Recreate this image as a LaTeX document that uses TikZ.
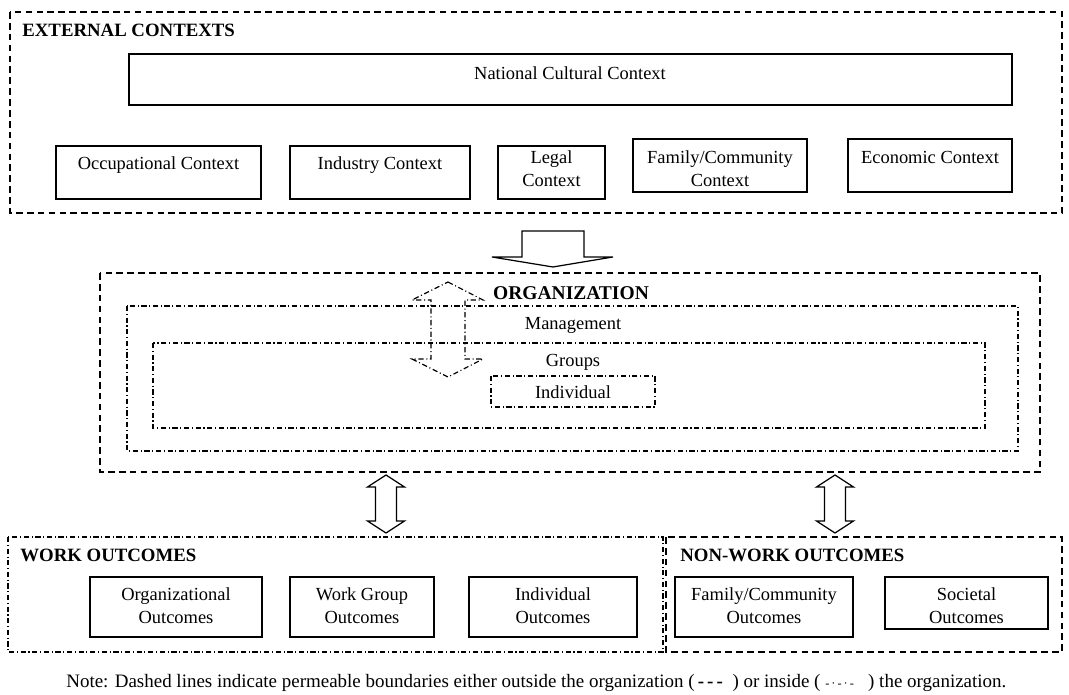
\documentclass[tikz,border=0pt]{standalone}
\usepackage{fontspec}
\setmainfont{Liberation Serif}
\tikzset{
  outer/.style={line width=1.3pt, dash pattern=on 3.8pt off 2.4pt},
  inner/.style={line width=0.65pt, dash pattern=on 3pt off 1.5pt on 0.6pt off 1.5pt},
  solidbox/.style={line width=0.7pt},
  head/.style={font=\fontsize{10.7}{13}\selectfont\bfseries, anchor=west, inner sep=0pt},
  txt/.style={align=center, inner sep=0pt},
}
\begin{document}
\begin{tikzpicture}[x=0.02cm, y=-0.02cm, font=\fontsize{10.5}{13}\selectfont]
      \useasboundingbox (0,0) rectangle (1069,695);

      % external contexts
      \draw[outer] (10,12) rectangle (1062,213);
      \node[head] (ext) at (22,30) {EXTERNAL CONTEXTS};
      \draw[solidbox] (129,54) rectangle (1012,105);
        \node[txt] (nat) at (570,73) {National Cultural Context};
      \draw[solidbox] (56,146) rectangle (261,199);
        \node[txt] (occ) at (158.5,165) {Occupational Context};
      \draw[solidbox] (290,146) rectangle (470,199);
        \node[txt] (ind) at (380,165) {Industry Context};
      \draw[solidbox] (498,146) rectangle (605,199);
        \node[txt] (leg) at (551.5,169) {Legal\\Context};
      \draw[solidbox] (633,139) rectangle (807,192);
        \node[txt] (fam) at (720,169) {Family/Community\\Context};
      \draw[solidbox] (848,139) rectangle (1012,192);
        \node[txt] (eco) at (930,157) {Economic Context};

      \draw[solidbox] (522,231) -- (584,231) -- (584,257) -- (613,257) -- (553,267)
        -- (492,257) -- (522,257) -- cycle;

      % organization
      \draw[outer] (100,273) rectangle (1040,472);
      \node[head, anchor=center, font=\fontsize{11.1}{13}\selectfont\bfseries] (org) at (571,293) {ORGANIZATION};
      \draw[inner] (127,306) rectangle (1018,451);
        \node[txt] (man) at (573,325) {Management};
      \draw[inner] (153,343) rectangle (985,428);
        \node[txt] (grp) at (573,362) {Groups};
      \draw[inner] (491,376) rectangle (655,407);
        \node[txt] (indiv) at (573,392) {Individual};

      \draw[inner] (448,282) -- (483,300) -- (465,300) -- (465,359) -- (483,359)
        -- (448,377) -- (412,359) -- (431,359) -- (431,300) -- (412,300) -- cycle;

      \foreach \x in {386,835}
        \draw[solidbox] (\x,475) -- (\x+18.5,487) -- (\x+10.5,487) -- (\x+10.5,521)
          -- (\x+18.5,521) -- (\x,533) -- (\x-18.5,521) -- (\x-10.5,521)
          -- (\x-10.5,487) -- (\x-18.5,487) -- cycle;

      % outcomes
      \draw[inner] (8,537) rectangle (663,652);
      \node[head] (work) at (20,555) {WORK OUTCOMES};
      \draw[solidbox] (90,577) rectangle (262,637);
        \node[txt] (orgout) at (176,606) {Organizational\\Outcomes};
      \draw[solidbox] (290,577) rectangle (434,637);
        \node[txt] (grpout) at (362,606) {Work Group\\Outcomes};
      \draw[solidbox] (469,577) rectangle (637,637);
        \node[txt] (indout) at (553,606) {Individual\\Outcomes};

      \draw[outer] (666,537) rectangle (1062,652);
      \node[head] (nonwork) at (680,555) {NON-WORK OUTCOMES};
      \draw[solidbox] (675,577) rectangle (853,637);
        \node[txt] (famout) at (764,606) {Family/Community\\Outcomes};
      \draw[solidbox] (885,577) rectangle (1048,629);
        \node[txt] (socout) at (966.5,606) {Societal\\Outcomes};

      \node[txt, anchor=west, font=\fontsize{10.8}{13}\selectfont] (note) at (66,683) {Note: Dashed lines indicate permeable boundaries either
        outside the organization (\,\textbf{-\,-\,-}\ \ ) or inside (\ {\scriptsize -\,·\,-\,·\,-}\ \ \ ) the organization.};

    \end{tikzpicture}
\end{document}
